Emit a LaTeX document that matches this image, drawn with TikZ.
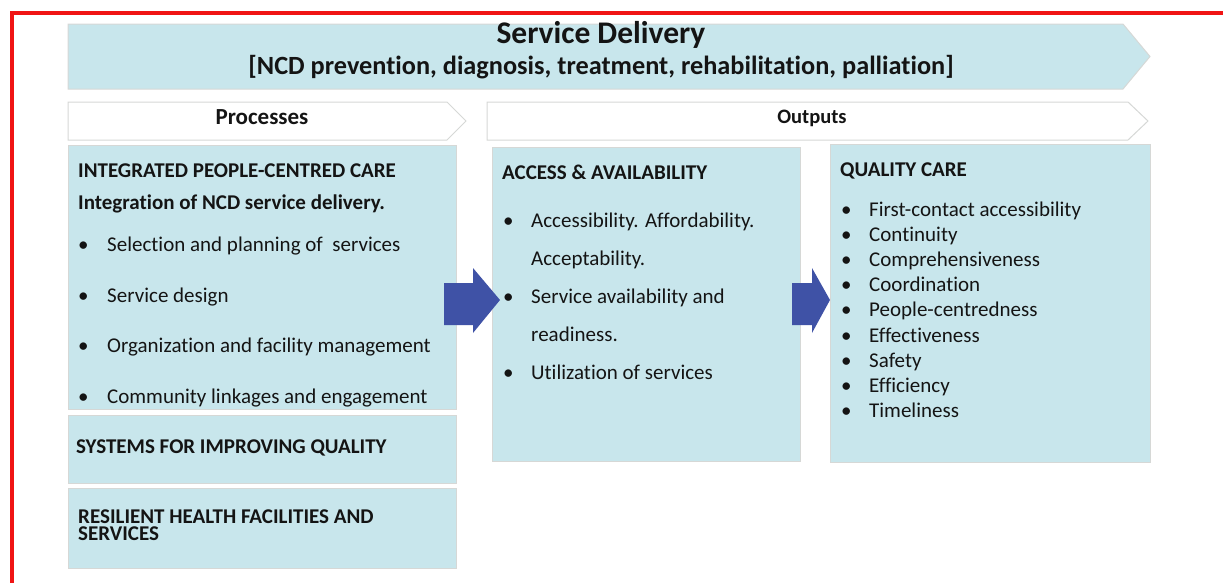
\documentclass[tikz,border=0pt]{standalone}
\usepackage{fontspec}
\setmainfont[Ligatures=NoCommon]{Carlito}
\definecolor{boxfill}{RGB}{200,230,236}
\definecolor{boxline}{RGB}{214,216,214}
\definecolor{arrowc}{RGB}{63,82,166}
\definecolor{redline}{RGB}{240,20,20}
\definecolor{txt}{RGB}{20,20,20}
\tikzset{
  panel/.style={fill=boxfill,draw=boxline,line width=1pt},
  headbox/.style={fill=white,draw=boxline,line width=1pt},
  blockarrow/.style={fill=arrowc,draw=none},
  tx/.style={anchor=base west,inner sep=0pt,text=txt,font=\fontsize{21}{24}\selectfont},
  bh/.style={tx,font=\fontsize{21}{24}\selectfont\bfseries},
  bul/.style={anchor=base west,inner sep=0pt,text=txt,font=\fontsize{21}{24}\selectfont},
}
\begin{document}
\begin{tikzpicture}[x=1pt,y=-1pt]
\useasboundingbox (0,0) rectangle (1223,582);
\clip (0,0) rectangle (1223,582);
% red frame
\draw[redline,line width=4.5pt] (12,13) rectangle (1240,600);
% banner
\path[panel] (68,24) -- (1123,24) -- (1150,56.5) -- (1123,89) -- (68,89) -- cycle;
\node[anchor=center,inner sep=0pt,text=txt,font=\fontsize{31.5}{34}\selectfont\bfseries] (sd) at (601,35) {Service Delivery};
\node[anchor=center,inner sep=0pt,text=txt,font=\fontsize{26.3}{30}\selectfont\bfseries] (sd2) at (601,67) {[NCD prevention, diagnosis, treatment, rehabilitation, palliation]};
% headers
\path[headbox] (68,102) -- (447,102) -- (466,121) -- (447,140) -- (68,140) -- cycle;
\node[anchor=center,inner sep=0pt,text=txt,font=\fontsize{23}{26}\selectfont\bfseries] (proc) at (262,117) {Processes};
\path[headbox] (487,102) -- (1128,102) -- (1148,121) -- (1128,140) -- (487,140) -- cycle;
\node[anchor=center,inner sep=0pt,text=txt,font=\fontsize{20.5}{24}\selectfont\bfseries] (outp) at (812,118) {Outputs};
% boxes
\node[panel,anchor=north west,minimum width=388pt,minimum height=264pt,inner sep=0pt] (ipc) at (68,145) {};
\node[panel,anchor=north west,minimum width=388pt,minimum height=68pt,inner sep=0pt] (sys) at (68,415) {};
\node[panel,anchor=north west,minimum width=388pt,minimum height=80pt,inner sep=0pt] (res) at (68,488) {};
\node[panel,anchor=north west,minimum width=308pt,minimum height=314pt,inner sep=0pt] (acc) at (492,147) {};
\node[panel,anchor=north west,minimum width=320pt,minimum height=318pt,inner sep=0pt] (qc) at (830,144) {};
% block arrows
\path[blockarrow] (444,283) -- (473,283) -- (473,268) -- (500,300) -- (473,333) -- (473,325) -- (444,325) -- cycle;
\path[blockarrow] (792,283) -- (812,283) -- (812,268) -- (830,300) -- (812,333) -- (812,325) -- (792,325) -- cycle;
% Integrated text
\node[bh] (t1) at (78,177) {INTEGRATED PEOPLE-CENTRED CARE};
\node[bh] (t2) at (78,209) {Integration of NCD service delivery.};
\foreach \y/\t [count=\i] in {251/Selection and planning of\ \ services, 302/Service design, 352/Organization and facility management, 403/Community linkages and engagement}{
  \node[bul] (ib\i) at (78,\y) {\textbullet};
  \node[tx] (it\i) at (107,\y) {\t};
}
% systems
\node[bh] (s1) at (76,453) {SYSTEMS FOR IMPROVING QUALITY};
\node[bh,text depth=0pt] (r1) at (78,523) {RESILIENT HEALTH FACILITIES AND};
\node[bh,text height=13pt] (r2) at (78,540) {SERVICES};
% access
\node[bh] (a0) at (502,179) {ACCESS \& AVAILABILITY};
\node[bul] (ab1) at (503,227) {\textbullet};
\node[tx] (at1) at (531,227) {Accessibility. Affordability.};
\node[tx] (at1b) at (531,265) {Acceptability.};
\node[bul] (ab2) at (503,303) {\textbullet};
\node[tx] (at2) at (531,303) {Service availability and};
\node[tx] (at2b) at (531,341) {readiness.};
\node[bul] (ab3) at (503,379) {\textbullet};
\node[tx] (at3) at (531,379) {Utilization of services};
% quality
\node[bh] (q0) at (840,176) {QUALITY CARE};
\foreach \t [count=\i] in {First-contact accessibility, Continuity, Comprehensiveness, Coordination, People-centredness, Effectiveness, Safety, Efficiency, Timeliness}{
  \node[bul] (qb\i) at (841,{216+25.2*(\i-1)}) {\textbullet};
  \node[tx] (qt\i) at (869,{216+25.2*(\i-1)}) {\t};
}
\end{tikzpicture}
\end{document}
